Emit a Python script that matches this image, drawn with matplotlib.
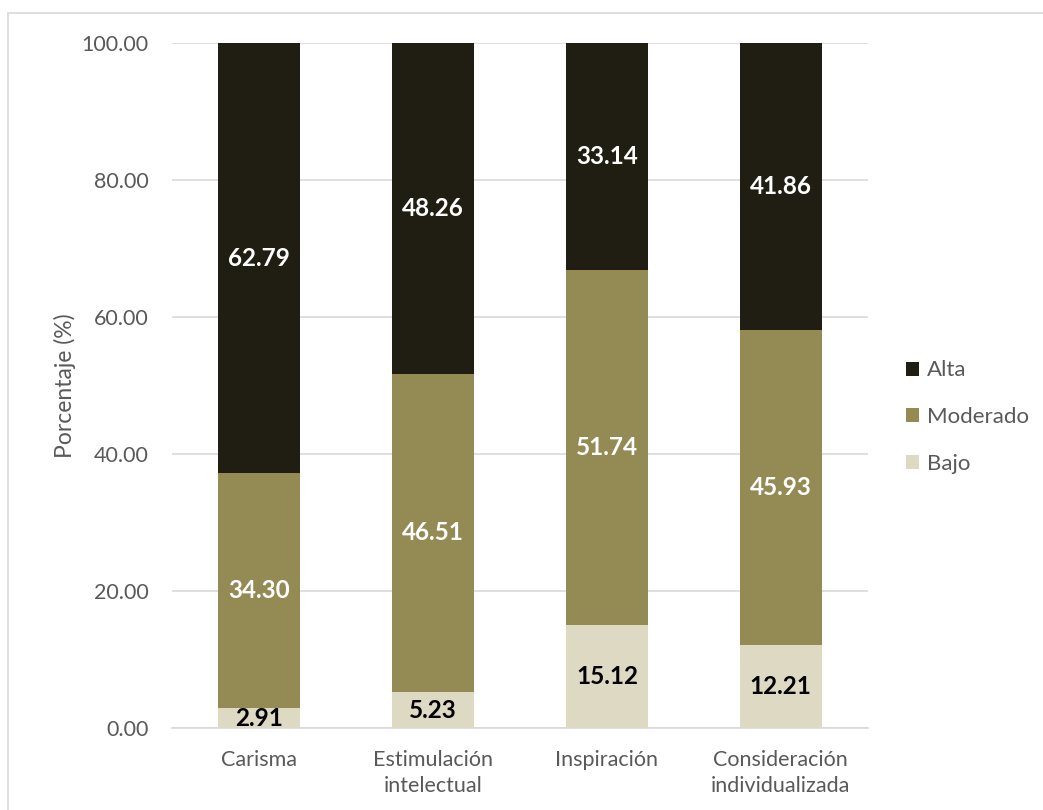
import matplotlib.pyplot as plt
import matplotlib.patches as mpatches
import numpy as np

plt.rcParams['font.family'] = ['Lato', 'DejaVu Sans']

categories = ['Carisma', 'Estimulación\nintelectual', 'Inspiración', 'Consideración\nindividualizada']
bajo = [2.91, 5.23, 15.12, 12.21]
moderado = [34.30, 46.51, 51.74, 45.93]
alta = [62.79, 48.26, 33.14, 41.86]

c_alta = '#201e12'
c_mod = '#948a54'
c_bajo = '#ddd9c3'

fig = plt.figure(figsize=(10.43, 8.10), dpi=100)
ax = fig.add_axes([0.165, 0.101, 0.667, 0.846])

# chart frame
fig.patches.append(mpatches.Rectangle((8 / 1043, -0.01), 1.1, 1 - 13 / 810 + 0.01,
                                      transform=fig.transFigure, fill=False,
                                      edgecolor='#d9d9d9', linewidth=1.2))

x = np.arange(len(categories))
w = 0.47
b1 = ax.bar(x, bajo, w, color=c_bajo, label='Bajo', zorder=3)
b2 = ax.bar(x, moderado, w, bottom=bajo, color=c_mod, label='Moderado', zorder=3)
b3 = ax.bar(x, alta, w, bottom=np.array(bajo) + np.array(moderado), color=c_alta,
            label='Alta', zorder=3)

for i in range(len(categories)):
    ax.text(x[i], bajo[i] / 2, f'{bajo[i]:.2f}', ha='center', va='center',
            fontsize=17.5, fontweight='bold', color='black', zorder=4)
    ax.text(x[i], bajo[i] + moderado[i] / 2, f'{moderado[i]:.2f}', ha='center',
            va='center', fontsize=17.5, fontweight='bold', color='white', zorder=4)
    ax.text(x[i], bajo[i] + moderado[i] + alta[i] / 2, f'{alta[i]:.2f}', ha='center',
            va='center', fontsize=17.5, fontweight='bold', color='white', zorder=4)

ax.set_xlim(-0.5, len(categories) - 0.5)
ax.set_ylim(0, 100)
ax.set_yticks(np.arange(0, 101, 20))
ax.set_yticklabels([f'{v:.2f}' for v in np.arange(0, 101, 20)])
ax.set_xticks(x)
ax.set_xticklabels(categories, linespacing=1.35)
ax.tick_params(length=0, labelsize=15.5, labelcolor='#595959')
ax.tick_params(axis='x', pad=16)
ax.tick_params(axis='y', pad=17)
ax.yaxis.grid(True, color='#d9d9d9', linewidth=1.2, zorder=0)
for s in ['top', 'right', 'left']:
    ax.spines[s].set_visible(False)
ax.spines['bottom'].set_color('#d9d9d9')
ax.spines['bottom'].set_linewidth(1.2)
ax.set_ylabel('Porcentaje (%)', fontsize=16.5, color='#595959', labelpad=4)

handles = [b3, b2, b1]
ax.legend(handles, ['Alta', 'Moderado', 'Bajo'], loc='center left',
          bbox_to_anchor=(1.055, 0.454), frameon=False, fontsize=16,
          labelcolor='#595959', handlelength=0.6, handleheight=0.6,
          handletextpad=0.35, labelspacing=1.2, borderaxespad=0, borderpad=0)

fig.savefig('out.png', dpi=100)
